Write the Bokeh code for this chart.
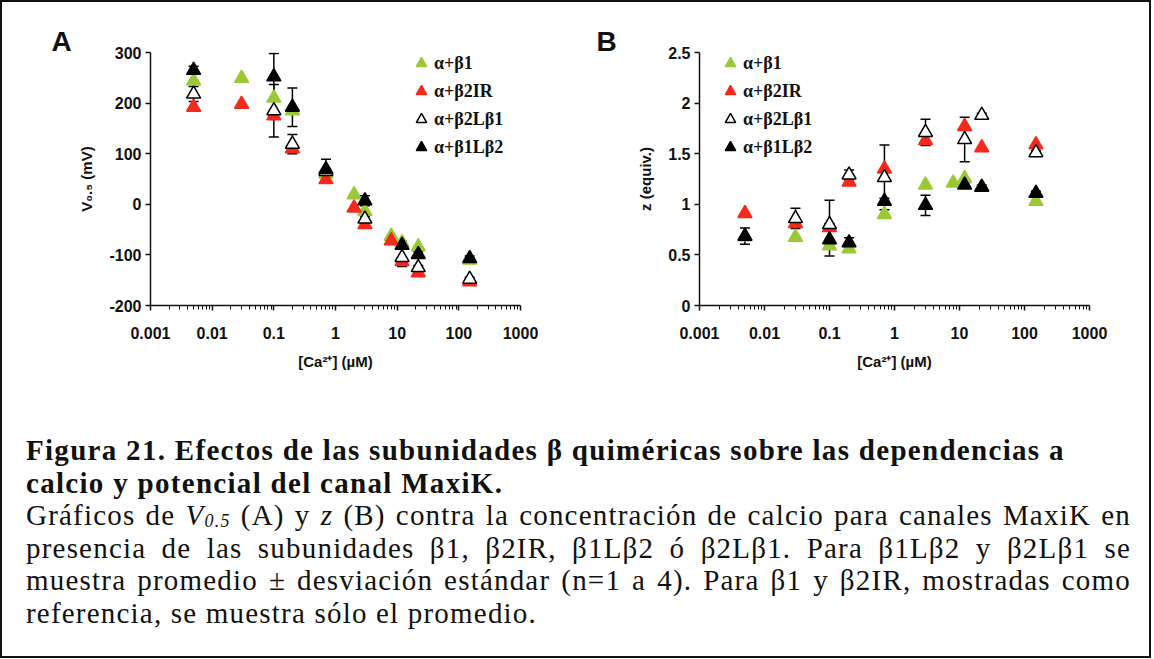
from bokeh.plotting import figure
from bokeh.models import (ColumnDataSource, Whisker, TeeHead, FixedTicker,
                          CustomJSTickFormatter, Div, Range1d)
from bokeh.layouts import column, row
from bokeh.embed import file_html
from bokeh.resources import INLINE

# ---------------- data ----------------
names = ["α+β1", "α+β2IR", "α+β2Lβ1", "α+β1Lβ2"]

# Panel A: V0.5 (mV) vs [Ca2+] (uM)
a_b1_ca = [0.005, 0.03, 0.1, 0.2, 0.7, 2, 3, 8, 12, 22, 150]
a_b1_v = [244, 249, 210, 185, 60, 19, -14, -63, -76, -84, -110]
a_b2ir_ca = [0.005, 0.03, 0.1, 0.2, 0.7, 2, 3, 8, 12, 22, 150]
a_b2ir_v = [192, 198, 175, 110, 49, -7, -40, -72, -113, -135, -153]
a_b2lb1_ca = [0.005, 0.1, 0.2, 0.7, 3, 12, 22, 150]
a_b2lb1_v = [218, 185, 119, 65, -29, -105, -125, -148]
a_b2lb1_sd = [15, 52, 19, 5, 5, 18, 4, 4]
a_b1lb2_ca = [0.005, 0.1, 0.2, 0.7, 3, 12, 22, 150]
a_b1lb2_v = [265, 252, 192, 69, 7, -81, -99, -107]
a_b1lb2_sd = [8, 46, 38, 20, 10, 8, 5, 5]

# Panel B: z (equiv.) vs [Ca2+] (uM)
b_b1_ca = [0.005, 0.03, 0.1, 0.2, 0.7, 3, 8, 12, 22, 150]
b_b1_z = [0.68, 0.675, 0.59, 0.56, 0.90, 1.19, 1.21, 1.255, 1.17, 1.03]
b_b2ir_ca = [0.005, 0.03, 0.1, 0.2, 0.7, 3, 12, 22, 150]
b_b2ir_z = [0.91, 0.81, 0.77, 1.22, 1.35, 1.63, 1.77, 1.56, 1.59]
b_b2lb1_ca = [0.03, 0.1, 0.2, 0.7, 3, 12, 22, 150]
b_b2lb1_z = [0.86, 0.80, 1.29, 1.265, 1.71, 1.64, 1.88, 1.51]
b_b2lb1_sd = [0.10, 0.24, 0.05, 0.32, 0.13, 0.22, 0.02, 0.02]
b_b1lb2_ca = [0.005, 0.1, 0.2, 0.7, 3, 12, 22, 150]
b_b1lb2_z = [0.685, 0.65, 0.62, 1.03, 0.99, 1.19, 1.17, 1.11]
b_b1lb2_sd = [0.08, 0.16, 0.05, 0.03, 0.10, 0.02, 0.02, 0.02]

x_major = [0.001, 0.01, 0.1, 1, 10, 100, 1000]
x_minor = [m * 10.0 ** k for k in range(-3, 3) for m in range(2, 10)]
a_yticks = [-200, -100, 0, 100, 200, 300]
b_yticks = [0, 0.5, 1, 1.5, 2, 2.5]

GREEN = "#9BC935"
RED = "#F22A1C"
INK = "#111111"
SANS = "Liberation Sans"
SERIF = "Liberation Serif"
fmt = CustomJSTickFormatter(code="return tick.toString()")


def make_panel(letter, letter_offset, ylabel, yr, yticks, series, width, height,
               mbl, mbr, mbt, mbb, leg_xy):
    p = figure(width=width, height=height, x_axis_type="log",
               x_range=Range1d(0.001, 1000), y_range=Range1d(*yr),
               output_backend="svg", toolbar_location=None,
               min_border_left=mbl, min_border_right=mbr,
               min_border_top=mbt, min_border_bottom=mbb)
    p.outline_line_color = None
    p.grid.visible = False
    p.background_fill_color = "white"
    p.border_fill_color = "white"

    p.title.text = letter
    p.title.align = "left"
    p.title.offset = letter_offset
    p.title.standoff = -9
    p.title.text_font = SANS
    p.title.text_font_style = "bold"
    p.title.text_font_size = "28px"
    p.title.text_color = INK
    p.title.vertical_align = "bottom"

    for ax in (p.xaxis[0], p.yaxis[0]):
        ax.axis_line_width = 1.5
        ax.axis_line_color = INK
        ax.major_tick_line_width = 1.5
        ax.major_tick_line_color = INK
        ax.minor_tick_line_color = INK
        ax.major_tick_in = 0
        ax.major_tick_out = 5
        ax.minor_tick_in = 0
        ax.minor_tick_out = 4
        ax.major_label_text_font = SANS
        ax.major_label_text_font_style = "bold"
        ax.major_label_text_font_size = "16px"
        ax.major_label_text_color = INK
        ax.axis_label_text_font = SANS
        ax.axis_label_text_font_style = "bold"
        ax.axis_label_text_font_size = "15px"
        ax.axis_label_text_color = INK
        ax.formatter = fmt

    p.xaxis.ticker = FixedTicker(ticks=x_major, minor_ticks=x_minor)
    p.yaxis.ticker = FixedTicker(ticks=yticks, minor_ticks=[])
    p.xaxis.axis_label = "[Ca²⁺] (µM)"
    p.xaxis.major_label_standoff = 16
    p.xaxis.axis_label_standoff = 11
    p.yaxis.axis_label = ylabel
    p.yaxis.major_label_standoff = 4
    p.yaxis.axis_label_standoff = 11

    styles = [dict(fill_color=GREEN, line_color=GREEN),
              dict(fill_color=RED, line_color=RED),
              dict(fill_color="white", line_color="black"),
              dict(fill_color="black", line_color="black")]
    for (ca, vals, sd), name, st in zip(series, names, styles):
        data = dict(x=ca, y=vals)
        if sd is not None:
            data["upper"] = [v + s for v, s in zip(vals, sd)]
            data["lower"] = [v - s for v, s in zip(vals, sd)]
        src = ColumnDataSource(data)
        if sd is not None:
            w = Whisker(base="x", upper="upper", lower="lower", source=src,
                        level="underlay", line_color="black", line_width=1.5,
                        upper_head=TeeHead(size=10, line_width=1.5, line_color="black"),
                        lower_head=TeeHead(size=10, line_width=1.5, line_color="black"))
            p.add_layout(w)
        p.scatter("x", "y", source=src, marker="triangle", size=14,
                  line_width=1.5, legend_label=name, **st)

    lg = p.legend[0]
    lg.location = leg_xy
    lg.border_line_color = None
    lg.background_fill_alpha = 0
    lg.label_text_font = SERIF
    lg.label_text_font_style = "bold"
    lg.label_text_font_size = "18px"
    lg.label_text_color = INK
    lg.glyph_width = 26
    lg.glyph_height = 26
    lg.label_height = 26
    lg.spacing = 2
    lg.padding = 0
    lg.margin = 0
    lg.label_standoff = 0
    return p


pA = make_panel("A", -99, "V₀.₅ (mV)", (-200, 300), a_yticks,
                [(a_b1_ca, a_b1_v, None), (a_b2ir_ca, a_b2ir_v, None),
                 (a_b2lb1_ca, a_b2lb1_v, a_b2lb1_sd),
                 (a_b1lb2_ca, a_b1lb2_v, a_b1lb2_sd)],
                width=557, height=375, mbl=148, mbr=39, mbt=48, mbb=72,
                leg_xy=(258, 145))

pB = make_panel("B", -103, "z (equiv.)", (0, 2.5), b_yticks,
                [(b_b1_ca, b_b1_z, None), (b_b2ir_ca, b_b2ir_z, None),
                 (b_b2lb1_ca, b_b2lb1_z, b_b2lb1_sd),
                 (b_b1lb2_ca, b_b1lb2_z, b_b1lb2_sd)],
                width=580, height=375, mbl=140, mbr=50, mbt=50, mbb=70,
                leg_xy=(18, 145))

base = "font-size:29px;line-height:32.5px;letter-spacing:1.2px;white-space:nowrap;"
just = base + "text-align:justify;text-align-last:justify;"
bold = base + "font-weight:bold;letter-spacing:1.3px;"
caption = f"""
<div style="font-family:'Liberation Serif';color:#111;width:1105px;margin-left:19px;padding-top:52px;">
<div style="{bold}">Figura 21. Efectos de las subunidades β quiméricas sobre las dependencias a</div>
<div style="{bold}">calcio y potencial del canal MaxiK.</div>
<div style="{just}">Gráficos de <i>V<span style="font-size:18px;line-height:0;vertical-align:-2px">0.5</span></i> (A) y <i>z</i> (B) contra la concentración de calcio para canales MaxiK en</div>
<div style="{just}">presencia de las subunidades β1, β2IR, β1Lβ2 ó β2Lβ1. Para β1Lβ2 y β2Lβ1 se</div>
<div style="{just}">muestra promedio ± desviación estándar (n=1 a 4). Para β1 y β2IR, mostradas como</div>
<div style="{base}">referencia, se muestra sólo el promedio.</div>
</div>
"""
cap = Div(text=caption, width=1137, height=269)

layout = column(row(pA, pB), cap, styles={"border": "2px solid #111",
                                          "background-color": "white"})

open("out.html", "w").write(file_html(layout, INLINE))
